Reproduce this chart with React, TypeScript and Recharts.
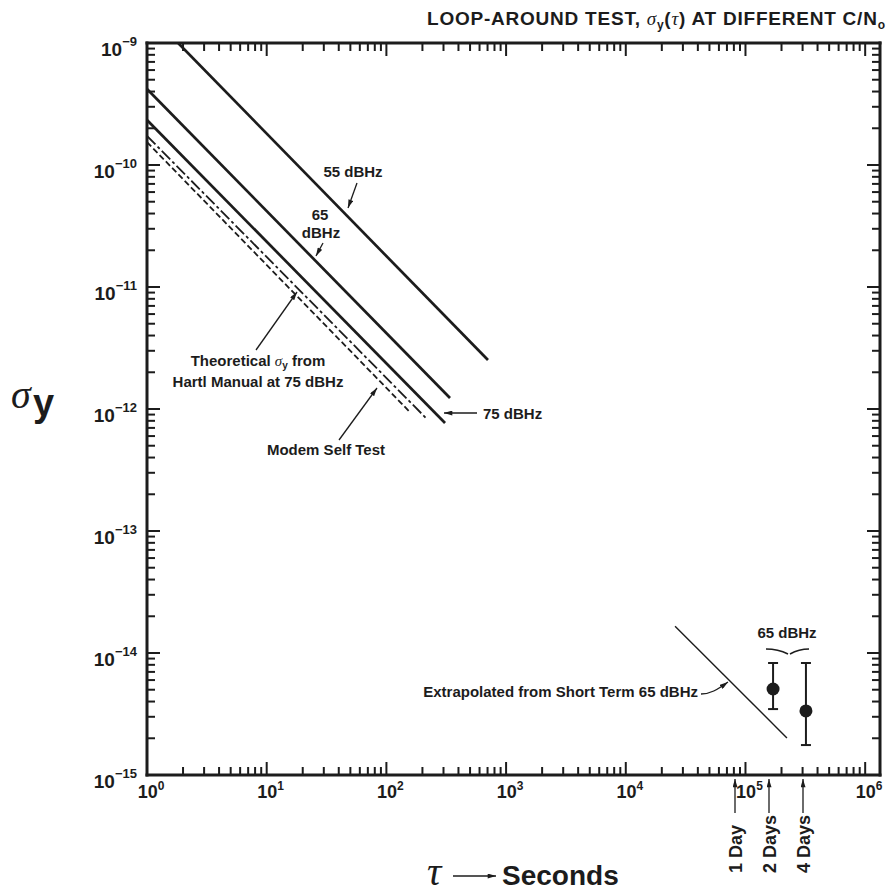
import React from "react";
import { ComposedChart, Line, Scatter, ErrorBar, XAxis, YAxis } from "recharts";

// sigma_y(tau) lines (end points of each straight segment)
const line55 = [
  { tau: 1.82, s: 1e-9 },
  { tau: 706, s: 2.52e-12 },
];
const line65 = [
  { tau: 1, s: 4.2e-10 },
  { tau: 340, s: 1.23e-12 },
];
const line75 = [
  { tau: 1, s: 2.34e-10 },
  { tau: 309, s: 7.67e-13 },
];
const theoretical = [
  { tau: 1, s: 1.73e-10 },
  { tau: 214, s: 8.44e-13 },
];
const modemSelfTest = [
  { tau: 1, s: 1.54e-10 },
  { tau: 157, s: 9.45e-13 },
];
const extrapolated = [
  { tau: 2.58e4, s: 1.66e-14 },
  { tau: 2.22e5, s: 2.01e-15 },
];
// long term measurements at 65 dBHz (2 days, 4 days)
const measured65 = [
  { tau: 1.7e5, s: 5.07e-15, lo: 3.47e-15, hi: 8.28e-15 },
  { tau: 3.2e5, s: 3.35e-15, lo: 1.76e-15, hi: 8.28e-15 },
];

const xDecades = [1, 10, 100, 1e3, 1e4, 1e5, 1e6];
const yDecades = [1e-15, 1e-14, 1e-13, 1e-12, 1e-11, 1e-10, 1e-9];
const minorSteps = [2, 3, 4, 5, 6, 7, 8, 9];

const xTicks = [
  ...xDecades,
  ...xDecades.slice(0, -1).flatMap((d) => minorSteps.map((k) => k * d)),
];
const yTicks = [
  ...yDecades,
  ...yDecades.slice(0, -1).flatMap((d) => minorSteps.map((k) => k * d)),
];

const INK = "#1c1c1c";
const FONT = "'Liberation Sans', Arial, Helvetica, sans-serif";
const SERIF = "'Liberation Serif', 'Times New Roman', serif";

const isMajor = (v: number) => {
  const l = Math.log10(v);
  return Math.abs(l - Math.round(l)) < 1e-6;
};
const expText = (v: number) => {
  const e = Math.round(Math.log10(v));
  return e < 0 ? "\u2212" + Math.abs(e) : String(e);
};

const frame = { stroke: INK, strokeWidth: 3, strokeLinecap: "square" as const };

// ticks point into the plot, like the original; only bottom and left carry labels
function makeTick(side: "bottom" | "top" | "left" | "right") {
  return (props: any) => {
    const { x, y, payload } = props;
    const v = payload.value;
    const major = isMajor(v);
    const len = major ? 13 : 8;
    let x2 = x;
    let y2 = y;
    if (side === "bottom") y2 = y - len;
    if (side === "top") y2 = y + len;
    if (side === "left") x2 = x + len;
    if (side === "right") x2 = x - len;
    return (
      <g>
        <line x1={x} y1={y} x2={x2} y2={y2} stroke={INK} strokeWidth={2} />
        {major && side === "bottom" && (
          <text x={x + 4} y={y + 23} textAnchor="middle" fontFamily={FONT} fontWeight={700} fontSize={18} fill={INK}>
            10
            <tspan dy={-8} fontSize={12}>
              {expText(v)}
            </tspan>
          </text>
        )}
        {major && side === "left" && (
          <text x={x - 10} y={y + 13} textAnchor="end" fontFamily={FONT} fontWeight={700} fontSize={19} fill={INK}>
            10
            <tspan dy={-10} fontSize={13}>
              {expText(v)}
            </tspan>
          </text>
        )}
      </g>
    );
  };
}

const bottomTick = makeTick("bottom");
const topTick = makeTick("top");
const leftTick = makeTick("left");
const rightTick = makeTick("right");

const MeasuredDot = (props: any) => <circle cx={props.cx} cy={props.cy} r={6.5} fill={INK} />;

const dayMarks = [
  { x: 735, label: "1 Day" },
  { x: 769, label: "2 Days" },
  { x: 803, label: "4 Days" },
];

function Annotations() {
  const t = { fontFamily: FONT, fontWeight: 700, fill: INK } as const;
  const lead = { stroke: INK, strokeWidth: 1.3, fill: "none", markerEnd: "url(#arr)" } as const;
  return (
    <svg width={887} height={894} style={{ position: "absolute", left: 0, top: 0, pointerEvents: "none" }}>
      <defs>
        <marker id="arr" viewBox="0 0 10 6" refX="10" refY="3" markerWidth="9" markerHeight="5" markerUnits="userSpaceOnUse" orient="auto">
          <path d="M0,0 L10,3 L0,6 z" fill={INK} />
        </marker>
      </defs>

      {/* title */}
      <text x={885} y={25} textAnchor="end" fontSize={19} textLength={458} lengthAdjust="spacing" {...t}>
        LOOP-AROUND TEST,{" "}
        <tspan fontFamily={SERIF} fontStyle="italic" fontWeight={400}>σ</tspan>
        <tspan fontSize={12} dy={4}>y</tspan>
        <tspan dy={-4}>(</tspan>
        <tspan fontFamily={SERIF} fontStyle="italic" fontWeight={400}>τ</tspan>
        <tspan>) AT DIFFERENT C/N</tspan>
        <tspan fontSize={12} dy={4}>o</tspan>
      </text>

      {/* line labels */}
      <text x={353} y={177} textAnchor="middle" fontSize={15} {...t}>55 dBHz</text>
      <path d="M357,183 L348,208" {...lead} />

      <text x={320} y={220} textAnchor="middle" fontSize={15} {...t}>65</text>
      <text x={321} y={238} textAnchor="middle" fontSize={15} {...t}>dBHz</text>
      <path d="M323,243 L316,256" {...lead} />

      <text x={258} y={366} textAnchor="middle" fontSize={15} {...t}>
        Theoretical{" "}
        <tspan fontFamily={SERIF} fontStyle="italic" fontWeight={400}>σ</tspan>
        <tspan fontSize={10} dy={3}>y</tspan>
        <tspan dy={-3}> from</tspan>
      </text>
      <text x={258} y={387} textAnchor="middle" fontSize={15} {...t}>Hartl Manual at 75 dBHz</text>
      <path d="M256,350 L297,292" {...lead} />

      <text x={326} y={455} textAnchor="middle" fontSize={15} {...t}>Modem Self Test</text>
      <path d="M339,440 L377,388" {...lead} />

      <text x={483} y={419} fontSize={15} {...t}>75 dBHz</text>
      <path d="M477,413 L444,413" {...lead} />

      <text x={698} y={697} textAnchor="end" fontSize={15} {...t}>Extrapolated from Short Term 65 dBHz</text>
      <path d="M701,694 C710,694 717,690 728,682" {...lead} />

      <text x={787} y={638} textAnchor="middle" fontSize={15} {...t}>65 dBHz</text>
      <path d="M766,649 Q778,649 788,654" stroke={INK} strokeWidth={1.5} fill="none" />
      <path d="M790,654 Q799,649 809,649" stroke={INK} strokeWidth={1.5} fill="none" />

      {/* day markers below the axis */}
      {dayMarks.map((d) => (
        <g key={d.label}>
          <path d={`M${d.x},813 L${d.x},779`} {...lead} />
          <text transform={`translate(${d.x + 7}, 873) rotate(-90)`} fontSize={18} {...t}>
            {d.label}
          </text>
        </g>
      ))}

      {/* axis titles */}
      <text x={11} y={408} fontFamily={SERIF} fontStyle="italic" fontSize={40} fill={INK}>σ</text>
      <text x={33} y={416} fontSize={38} {...t}>y</text>

      <text x={427} y={885} fontFamily={SERIF} fontStyle="italic" fontSize={40} fill={INK}>τ</text>
      <path d="M453,876 L496,876" {...lead} />
      <text x={502} y={885} fontSize={28} {...t}>Seconds</text>
    </svg>
  );
}

export default function App() {
  const xCommon = {
    dataKey: "tau",
    type: "number" as const,
    scale: "log" as const,
    domain: [1, 1.33e6],
    allowDataOverflow: true,
    ticks: xTicks,
    interval: 0,
    tickSize: 0,
    tickMargin: 0,
    tickLine: false,
    axisLine: frame,
  };
  const yCommon = {
    type: "number" as const,
    scale: "log" as const,
    domain: [1e-15, 1e-9],
    allowDataOverflow: true,
    ticks: yTicks,
    interval: 0,
    tickSize: 0,
    tickMargin: 0,
    tickLine: false,
    axisLine: frame,
  };
  const solid = { stroke: INK, strokeWidth: 2.7, dot: false, activeDot: false, isAnimationActive: false, type: "linear" as const };

  return (
    <div style={{ position: "absolute", left: 0, top: 0, width: 887, height: 894, background: "#fff" }}>
      <ComposedChart width={887} height={894} margin={{ top: 0, right: 0, bottom: 0, left: 0 }}>
        <XAxis xAxisId="b" orientation="bottom" height={119} tick={bottomTick} {...xCommon} />
        <XAxis xAxisId="t" orientation="top" height={43} tick={topTick} {...xCommon} />
        <YAxis yAxisId="l" orientation="left" width={147} tick={leftTick} {...yCommon} />
        <YAxis yAxisId="r" orientation="right" width={7} tick={rightTick} {...yCommon} />

        {/* invisible copy on the top/right axes so the mirror frame gets its ticks */}
        <Line xAxisId="t" yAxisId="r" data={line55} dataKey="s" stroke="none" dot={false} activeDot={false} isAnimationActive={false} />

        <Line xAxisId="b" yAxisId="l" data={line55} dataKey="s" {...solid} />
        <Line xAxisId="b" yAxisId="l" data={line65} dataKey="s" {...solid} />
        <Line xAxisId="b" yAxisId="l" data={line75} dataKey="s" {...solid} />
        <Line xAxisId="b" yAxisId="l" data={theoretical} dataKey="s" {...solid} strokeWidth={1.8} strokeDasharray="12 3 3 3" />
        <Line xAxisId="b" yAxisId="l" data={modemSelfTest} dataKey="s" {...solid} strokeWidth={1.8} strokeDasharray="6 3" />
        <Line xAxisId="b" yAxisId="l" data={extrapolated} dataKey="s" {...solid} strokeWidth={1.4} />

        <Scatter
          xAxisId="b"
          yAxisId="l"
          data={measured65.map((m) => ({ ...m, err: [m.s - m.lo, m.hi - m.s] }))}
          dataKey="s"
          shape={MeasuredDot}
          isAnimationActive={false}
        >
          <ErrorBar dataKey="err" direction="y" width={5} stroke={INK} strokeWidth={2} isAnimationActive={false} />
        </Scatter>
      </ComposedChart>
      <Annotations />
    </div>
  );
}
